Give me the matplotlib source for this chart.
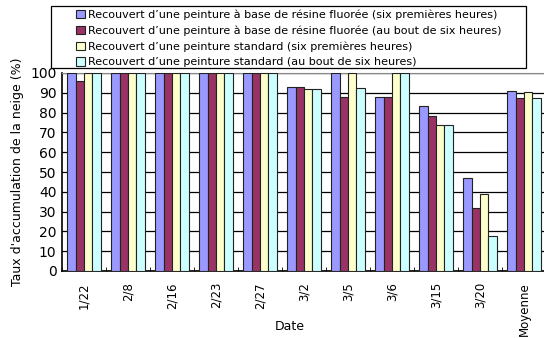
import numpy as np
import matplotlib
matplotlib.use("Agg")
from matplotlib import pyplot as plt
from matplotlib.patches import Patch, Rectangle

plt.rcParams['font.family'] = ['DejaVu Sans']

dates = ["1/22", "2/8", "2/16", "2/23", "2/27", "3/2", "3/5", "3/6", "3/15", "3/20", "Moyenne"]
fluor_first = [100, 100, 100, 100, 100, 93, 100, 87.7, 83.1, 46.8, 91.1]
fluor_after = [96, 100, 100, 100, 100, 93, 88, 87.7, 78.4, 31.9, 87.5]
std_first = [100, 100, 100, 100, 100, 92, 100, 100, 73.6, 38.7, 90.4]
std_after = [100, 100, 100, 100, 100, 92, 92.5, 100, 73.6, 17.9, 87.6]

labels = ["Recouvert d\u2019une peinture \u00e0 base de r\u00e9sine fluor\u00e9e (six premi\u00e8res heures)",
          "Recouvert d\u2019une peinture \u00e0 base de r\u00e9sine fluor\u00e9e (au bout de six heures)",
          "Recouvert d\u2019une peinture standard (six premi\u00e8res heures)",
          "Recouvert d\u2019une peinture standard (au bout de six heures)"]
colors = ["#9999FF", "#993366", "#FFFFCC", "#CCFFFF"]
series = [fluor_first, fluor_after, std_first, std_after]

W, H = 544, 338
fig = plt.figure(figsize=(W / 100, H / 100), dpi=100)
# plot area runs past the right edge of the picture, as in the original
ax = fig.add_axes([62 / W, (H - 271) / H, 484 / W, 198 / H])

x = np.arange(len(dates))
bw = 1 / 5.3
for k, (vals, c) in enumerate(zip(series, colors)):
    ax.bar(x + (k - 1.5) * bw, vals, bw, color=c, edgecolor="#222222",
           linewidth=0.8, zorder=3)

ax.set_xlim(-0.5, len(dates) - 0.5)
ax.set_ylim(0, 100)
ax.set_yticks(range(0, 101, 10))
ax.yaxis.grid(True, color="black", linewidth=0.9, zorder=1)
ax.tick_params(axis="y", length=0, labelsize=10, pad=4)

ax.set_xticks(x)
ax.set_xticklabels(dates, rotation=90, fontsize=8.5)
ax.tick_params(axis="x", length=0, pad=8)
ax.set_xticks(np.arange(-0.5, len(dates), 1), minor=True)
ax.tick_params(axis="x", which="minor", direction="in", length=3, color="black")

for s in ["left", "bottom"]:
    ax.spines[s].set_color("black")
    ax.spines[s].set_linewidth(1.2)
ax.spines["top"].set_color("#888888")
ax.spines["right"].set_visible(False)

fig.text(18 / W, 1 - 172 / H, "Taux d'accumulation de la neige (%)", rotation=90,
         ha="center", va="center", fontsize=9)
fig.text(290 / W, 1 - 327 / H, "Date", ha="center", va="center", fontsize=9)

# legend box drawn separately so the entries sit indented as in the original
fig.patches.append(Rectangle((51 / W, 1 - 68 / H), 475 / W, 62 / H,
                             transform=fig.transFigure, facecolor="white",
                             edgecolor="black", linewidth=0.9, zorder=5))
handles = [Patch(facecolor=c, edgecolor="#222222", linewidth=0.8) for c in colors]
leg = fig.legend(handles, labels, loc="upper left", bbox_to_anchor=(74 / W, 1 - 7 / H),
                 fontsize=8, frameon=False, handlelength=0.75,
                 handleheight=0.75, handletextpad=0.3, labelspacing=0.5,
                 borderpad=0.2, borderaxespad=0)
leg.set_zorder(6)

fig.savefig("out.png", dpi=100)
